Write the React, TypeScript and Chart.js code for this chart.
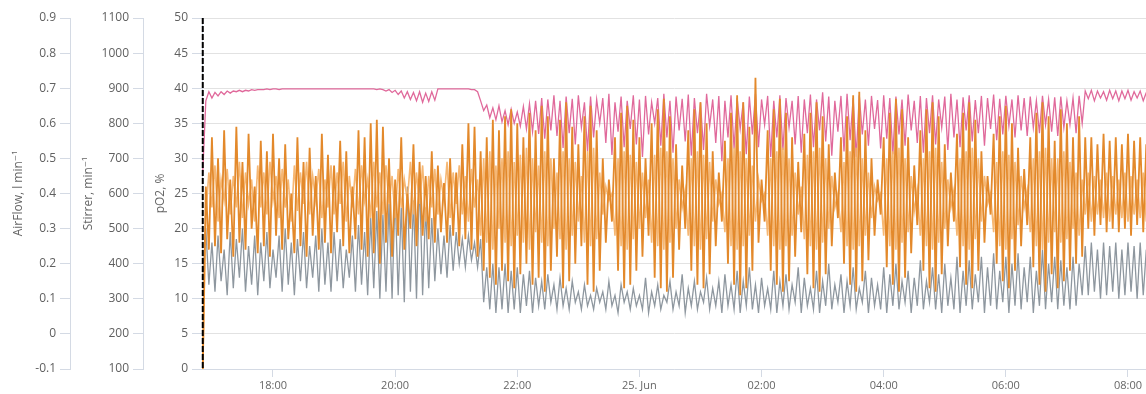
import React, { useEffect, useRef } from 'react';
import { Chart, registerables } from 'chart.js';
Chart.register(...registerables);

// time axis in minutes since 24 Jun 00:00
const START_MIN = 1011;
const STEP_MIN = 3;
const X_MIN = 1010.25;
const X_MAX = 1937.7;
const EVENT_MIN = 1011;
const X_TICKS = [1080, 1200, 1320, 1440, 1560, 1680, 1800, 1920];
const X_TICK_LABELS = ['18:00', '20:00', '22:00', '25. Jun', '02:00', '04:00', '06:00', '08:00'];

const AIRFLOW_TICKS = [-0.1, 0, 0.1, 0.2, 0.3, 0.4, 0.5, 0.6, 0.7, 0.8, 0.9];
const STIRRER_TICKS = [100, 200, 300, 400, 500, 600, 700, 800, 900, 1000, 1100];
const PO2_TICKS = [0, 5, 10, 15, 20, 25, 30, 35, 40, 45, 50];

// Stirrer, min^-1 (dark orange)
const stirrer = [
  100, 620, 440, 760, 450, 700, 430, 780, 470, 640,
  420, 790, 460, 690, 440, 770, 500, 620, 430, 750,
  450, 720, 420, 770, 480, 700, 440, 740, 470, 600,
  430, 760, 450, 690, 420, 730, 480, 650, 440, 770,
  460, 710, 430, 680, 490, 750, 450, 720, 430, 620,
  470, 780, 440, 760, 420, 800, 430, 810, 400, 790,
  460, 700, 420, 640, 480, 760, 440, 600, 500, 740,
  450, 690, 480, 650, 470, 720, 460, 680, 490, 630,
  460, 700, 480, 660, 450, 740, 470, 800, 440, 790,
  420, 720, 380, 760, 360, 810, 340, 780, 380, 820,
  350, 840, 330, 800, 370, 760, 400, 830, 340, 780,
  360, 850, 320, 820, 380, 700, 420, 810, 330, 860,
  350, 790, 400, 740, 450, 820, 340, 850, 320, 780,
  380, 700, 460, 640, 520, 760, 380, 830, 330, 850,
  340, 810, 380, 760, 420, 700, 480, 800, 360, 840,
  330, 870, 320, 820, 360, 740, 440, 680, 500, 780,
  380, 840, 340, 860, 330, 800, 370, 720, 450, 660,
  520, 750, 400, 830, 340, 880, 310, 860, 330, 790,
  380, 930, 460, 640, 520, 780, 380, 840, 340, 870,
  320, 830, 350, 760, 420, 690, 490, 770, 370, 830,
  330, 860, 320, 820, 370, 740, 450, 660, 530, 760,
  400, 820, 340, 880, 320, 890, 350, 780, 410, 700,
  480, 640, 540, 760, 390, 830, 340, 870, 320, 840,
  360, 760, 430, 680, 510, 780, 380, 840, 330, 860,
  320, 820, 370, 740, 450, 660, 520, 770, 390, 830,
  340, 860, 330, 810, 380, 720, 460, 650, 540, 770,
  400, 820, 350, 850, 330, 800, 380, 730, 450, 670,
  510, 760, 390, 830, 340, 860, 320, 820, 370, 750,
  330, 840, 350, 800, 380, 760, 400, 820, 420, 760,
  500, 760, 480, 740, 510, 770, 490, 750, 500, 760,
  490, 740, 500, 770, 480, 750, 510, 760, 490, 740,
];

// Stirrer (light orange)
const stirrerLight = [
  100, 540, 660, 560, 680, 520, 640, 580, 670, 540,
  650, 560, 690, 530, 660, 570, 640, 520, 680, 560,
  660, 540, 690, 580, 650, 530, 670, 560, 640, 520,
  680, 550, 660, 570, 690, 540, 650, 580, 670, 530,
  640, 560, 680, 540, 660, 570, 690, 520, 650, 560,
  670, 540, 680, 580, 640, 530, 690, 560, 660, 540,
  680, 570, 650, 530, 670, 560, 640, 580, 690, 540,
  660, 570, 680, 520, 650, 560, 670, 540, 640, 580,
  690, 530, 660, 570, 680, 540, 650, 520, 670, 560,
  640, 480, 700, 460, 720, 440, 680, 500, 700, 460,
  720, 450, 690, 480, 710, 460, 730, 440, 700, 490,
  680, 460, 720, 450, 700, 500, 660, 470, 720, 440,
  700, 480, 690, 520, 650, 460, 720, 450, 730, 470,
  660, 540, 620, 580, 600, 480, 700, 450, 720, 440,
  710, 470, 690, 500, 660, 530, 640, 460, 710, 450,
  730, 440, 720, 460, 700, 500, 640, 560, 610, 480,
  700, 450, 720, 440, 710, 470, 690, 520, 640, 570,
  600, 490, 700, 450, 730, 440, 720, 450, 700, 480,
  680, 520, 640, 580, 600, 480, 700, 450, 720, 440,
  730, 450, 700, 480, 660, 540, 620, 470, 710, 450,
  720, 440, 730, 460, 700, 500, 650, 560, 600, 490,
  690, 450, 720, 440, 730, 450, 700, 480, 660, 530,
  620, 580, 600, 480, 700, 450, 720, 440, 730, 460,
  700, 490, 650, 550, 610, 480, 700, 450, 720, 440,
  730, 460, 690, 500, 640, 560, 610, 480, 700, 450,
  720, 440, 730, 470, 700, 520, 650, 570, 600, 490,
  690, 450, 720, 440, 710, 470, 690, 510, 650, 560,
  610, 490, 700, 450, 720, 440, 730, 460, 700, 490,
  700, 460, 720, 470, 690, 500, 660, 480, 640, 540,
  660, 520, 650, 540, 640, 530, 660, 520, 650, 540,
  640, 530, 660, 520, 650, 540, 640, 530, 660, 520,
];

// AirFlow, l min^-1 (grey)
const airflow = [
  0.16, 0.30, 0.14, 0.26, 0.12, 0.28, 0.15, 0.24, 0.11, 0.29,
  0.13, 0.27, 0.16, 0.30, 0.12, 0.25, 0.14, 0.28, 0.11, 0.26,
  0.15, 0.29, 0.13, 0.24, 0.16, 0.28, 0.12, 0.30, 0.14, 0.26,
  0.11, 0.27, 0.15, 0.29, 0.13, 0.25, 0.16, 0.28, 0.12, 0.30,
  0.14, 0.26, 0.12, 0.29, 0.15, 0.27, 0.13, 0.24, 0.16, 0.28,
  0.12, 0.31, 0.14, 0.29, 0.11, 0.33, 0.13, 0.35, 0.10, 0.34,
  0.12, 0.37, 0.10, 0.40, 0.11, 0.36, 0.09, 0.42, 0.12, 0.38,
  0.10, 0.44, 0.11, 0.36, 0.13, 0.33, 0.15, 0.30, 0.17, 0.28,
  0.16, 0.31, 0.18, 0.29, 0.20, 0.27, 0.19, 0.28, 0.21, 0.26,
  0.19, 0.27, 0.09, 0.19, 0.07, 0.20, 0.06, 0.19, 0.07, 0.20,
  0.06, 0.18, 0.07, 0.19, 0.06, 0.17, 0.08, 0.18, 0.06, 0.16,
  0.08, 0.15, 0.07, 0.17, 0.09, 0.14, 0.07, 0.16, 0.08, 0.13,
  0.07, 0.15, 0.09, 0.12, 0.07, 0.14, 0.08, 0.11, 0.07, 0.13,
  0.09, 0.12, 0.07, 0.15, 0.08, 0.11, 0.06, 0.14, 0.09, 0.12,
  0.07, 0.13, 0.08, 0.11, 0.07, 0.16, 0.06, 0.12, 0.08, 0.14,
  0.07, 0.11, 0.09, 0.15, 0.07, 0.12, 0.08, 0.17, 0.06, 0.13,
  0.08, 0.15, 0.07, 0.12, 0.09, 0.16, 0.07, 0.13, 0.08, 0.15,
  0.06, 0.17, 0.08, 0.14, 0.07, 0.18, 0.06, 0.15, 0.08, 0.19,
  0.07, 0.14, 0.06, 0.16, 0.08, 0.13, 0.07, 0.18, 0.06, 0.15,
  0.08, 0.17, 0.07, 0.14, 0.09, 0.19, 0.06, 0.16, 0.08, 0.13,
  0.07, 0.18, 0.06, 0.15, 0.08, 0.20, 0.07, 0.14, 0.09, 0.17,
  0.06, 0.15, 0.08, 0.19, 0.07, 0.13, 0.09, 0.18, 0.06, 0.16,
  0.08, 0.14, 0.07, 0.19, 0.06, 0.17, 0.08, 0.20, 0.07, 0.15,
  0.09, 0.18, 0.06, 0.16, 0.08, 0.21, 0.07, 0.15, 0.09, 0.19,
  0.07, 0.17, 0.06, 0.20, 0.08, 0.16, 0.07, 0.22, 0.06, 0.18,
  0.08, 0.21, 0.07, 0.17, 0.09, 0.22, 0.06, 0.19, 0.08, 0.23,
  0.07, 0.18, 0.09, 0.22, 0.06, 0.20, 0.08, 0.23, 0.07, 0.19,
  0.09, 0.22, 0.06, 0.18, 0.08, 0.24, 0.07, 0.20, 0.09, 0.22,
  0.07, 0.21, 0.08, 0.19, 0.07, 0.22, 0.08, 0.20, 0.11, 0.25,
  0.11, 0.26, 0.12, 0.24, 0.10, 0.26, 0.11, 0.25, 0.12, 0.26,
  0.10, 0.24, 0.11, 0.26, 0.12, 0.25, 0.10, 0.26, 0.11, 0.24,
];

// pO2, % (pink)
const po2 = [
  28, 38.2, 39.5, 38.6, 39.4, 38.9, 39.5, 39.1, 39.6, 39.3,
  39.6, 39.5, 39.7, 39.5, 39.7, 39.6, 39.8, 39.7, 39.8, 39.8,
  39.8, 39.9, 39.8, 39.9, 39.9, 39.8, 39.9, 39.9, 39.9, 39.9,
  39.9, 39.9, 39.9, 39.9, 39.9, 39.9, 39.9, 39.9, 39.9, 39.9,
  39.9, 39.9, 39.9, 39.9, 39.9, 39.9, 39.9, 39.9, 39.9, 39.9,
  39.9, 39.9, 39.9, 39.9, 39.9, 39.9, 39.9, 39.8, 39.9, 39.8,
  39.6, 39.8, 39.4, 39.7, 39.1, 39.6, 38.6, 39.5, 38.4, 39.4,
  38.2, 39.5, 38.0, 39.3, 38.1, 39.5, 38.3, 39.9, 39.9, 39.9,
  39.9, 39.9, 39.9, 39.9, 39.9, 39.9, 39.9, 39.9, 39.8, 39.8,
  39.5, 38.2, 36.8, 37.6, 35.8, 37.2, 35.5, 37.5, 35.2, 36.8,
  34.8, 37.0, 35.0, 36.6, 34.6, 37.4, 34.2, 37.8, 33.8, 38.2,
  33.5, 38.6, 32.8, 38.4, 34.0, 39.0, 33.2, 38.2, 31.5, 38.8,
  33.6, 38.5, 32.0, 39.0, 34.4, 38.0, 31.0, 38.8, 33.0, 38.4,
  35.0, 38.6, 32.2, 39.2, 30.5, 38.0, 33.8, 38.8, 31.6, 38.2,
  34.2, 39.0, 32.0, 38.4, 30.2, 38.9, 33.4, 38.0, 35.0, 38.6,
  31.8, 39.2, 33.0, 38.2, 30.8, 38.8, 34.0, 38.5, 32.4, 39.1,
  30.4, 38.6, 33.6, 38.0, 31.2, 39.2, 34.6, 38.4, 32.2, 38.9,
  29.6, 38.2, 33.0, 39.0, 31.4, 38.6, 34.2, 38.0, 30.6, 38.8,
  33.4, 39.2, 31.6, 38.4, 34.8, 38.9, 30.2, 38.2, 33.0, 39.0,
  31.2, 38.6, 34.4, 38.2, 32.0, 38.9, 30.8, 38.4, 33.6, 39.1,
  31.6, 38.4, 34.0, 39.4, 32.4, 38.8, 30.4, 38.2, 33.8, 38.9,
  31.0, 39.2, 32.6, 38.6, 30.2, 39.0, 33.4, 38.4, 31.8, 38.9,
  34.2, 38.3, 31.4, 39.0, 32.8, 38.6, 30.6, 38.8, 33.4, 38.4,
  31.8, 39.1, 34.0, 38.2, 32.2, 38.9, 30.8, 38.6, 33.6, 39.0,
  32.0, 38.4, 34.4, 38.8, 31.2, 39.2, 33.0, 38.4, 31.6, 38.7,
  34.0, 39.0, 32.4, 38.3, 33.6, 38.9, 31.8, 38.6, 34.2, 39.1,
  32.6, 38.5, 33.4, 38.9, 34.6, 38.4, 33.0, 39.0, 34.0, 38.6,
  33.2, 38.8, 34.4, 38.2, 33.6, 38.9, 34.8, 38.4, 33.8, 38.7,
  33.2, 38.8, 34.4, 38.2, 34.8, 38.6, 33.6, 38.9, 35.0, 39.6,
  38.5, 39.7, 38.2, 39.6, 38.6, 39.5, 38.3, 39.7, 38.5, 39.6,
  38.2, 39.6, 38.5, 39.7, 38.3, 39.5, 38.6, 39.6, 38.2, 39.4,
];

const toPoints = (arr: number[]) => arr.map((v, i) => ({ x: START_MIN + i * STEP_MIN, y: v }));

const FONT = '"Open Sans", "DejaVu Sans", sans-serif';
const LABEL_COLOR = '#606060';
const TITLE_COLOR = '#666666';
const AXIS_LINE = '#d4dae4';
const GRID = '#e2e2e2';

const eventLine = {
  id: 'eventLine',
  afterDatasetsDraw(chart: any) {
    const { ctx, chartArea, scales } = chart;
    const x = scales.x.getPixelForValue(EVENT_MIN);
    ctx.save();
    ctx.strokeStyle = '#000000';
    ctx.lineWidth = 2;
    ctx.setLineDash([6, 2]);
    ctx.beginPath();
    ctx.moveTo(x, chartArea.top);
    ctx.lineTo(x, chartArea.bottom);
    ctx.stroke();
    ctx.restore();
  },
};

function yAxis(opts: any) {
  return {
    type: 'linear',
    position: 'left',
    min: opts.min,
    max: opts.max,
    weight: opts.weight,
    afterFit: (s: any) => { s.width = opts.width; },
    afterBuildTicks: (s: any) => { s.ticks = opts.ticks.map((v: number) => ({ value: v })); },
    title: {
      display: true,
      text: opts.title,
      color: TITLE_COLOR,
      font: { family: FONT, size: 12 },
      padding: { top: opts.titlePad, bottom: 0 },
    },
    ticks: {
      color: LABEL_COLOR,
      font: { family: FONT, size: 12 },
      padding: 4,
      autoSkip: false,
      callback: opts.format,
    },
    grid: {
      display: true,
      drawOnChartArea: opts.gridOnChart,
      drawTicks: true,
      tickLength: 10,
      color: GRID,
      tickColor: AXIS_LINE,
      lineWidth: 1,
    },
    border: { display: true, color: AXIS_LINE, width: 1 },
  };
}

export default function App() {
  const ref = useRef<HTMLCanvasElement | null>(null);
  useEffect(() => {
    if (!ref.current) return;
    const chart = new Chart(ref.current, {
      type: 'line',
      data: {
        datasets: [
          {
            label: 'Stirrer',
            data: toPoints(stirrer),
            yAxisID: 'yS',
            borderColor: '#E3892B',
            borderWidth: 1.8,
            order: 1,
          },
          {
            label: 'Stirrer (light)',
            data: toPoints(stirrerLight),
            yAxisID: 'yS',
            borderColor: 'rgba(245,175,100,0.9)',
            borderWidth: 1.6,
            order: 2,
          },
          {
            label: 'AirFlow',
            data: toPoints(airflow),
            yAxisID: 'yA',
            borderColor: '#8E979F',
            borderWidth: 1.3,
            order: 3,
          },
          {
            label: 'pO2',
            data: toPoints(po2),
            yAxisID: 'yP',
            borderColor: '#E0699B',
            borderWidth: 1.3,
            order: 4,
          },
        ] as any,
      },
      options: {
        animation: false,
        responsive: false,
        parsing: true,
        layout: { padding: { top: 18, left: 0, right: 0, bottom: 0 } },
        elements: { point: { radius: 0 }, line: { tension: 0 } },
        plugins: { legend: { display: false }, tooltip: { enabled: false } },
        events: [],
        scales: {
          x: {
            type: 'linear',
            min: X_MIN,
            max: X_MAX,
            afterFit: (s: any) => { s.height = 25; },
            afterBuildTicks: (s: any) => { s.ticks = X_TICKS.map((v) => ({ value: v })); },
            ticks: {
              color: '#666666',
              font: { family: FONT, size: 11 },
              padding: 2,
              maxRotation: 0,
              autoSkip: false,
              includeBounds: false,
              callback: (v: any) => {
                const idx = X_TICKS.indexOf(Number(v));
                return idx >= 0 ? X_TICK_LABELS[idx] : '';
              },
            },
            grid: {
              display: true,
              drawOnChartArea: false,
              drawTicks: true,
              tickLength: 8,
              tickColor: AXIS_LINE,
            },
            border: { display: true, color: AXIS_LINE, width: 1 },
          },
          yP: yAxis({
            min: 0, max: 50, weight: 1, width: 59, ticks: PO2_TICKS,
            title: 'pO2, %', titlePad: 10, gridOnChart: true,
            format: (v: any) => String(v),
          }),
          yS: yAxis({
            min: 100, max: 1100, weight: 2, width: 73, ticks: STIRRER_TICKS,
            title: 'Stirrer, min⁻¹', titlePad: 11, gridOnChart: false,
            format: (v: any) => String(v),
          }),
          yA: yAxis({
            min: -0.1, max: 0.9, weight: 3, width: 70, ticks: AIRFLOW_TICKS,
            title: 'AirFlow, l min⁻¹', titlePad: 11, gridOnChart: false,
            format: (v: any) => {
              const n = Number(v);
              return Math.abs(n) < 1e-9 ? '0' : n.toFixed(1);
            },
          }),
        } as any,
      },
      plugins: [eventLine],
    });
    return () => chart.destroy();
  }, []);

  return (
    <div style={{ position: 'fixed', left: 0, top: 0, width: 1146, height: 394, background: '#ffffff' }}>
      <canvas ref={ref} width={1146} height={394} style={{ display: 'block', width: 1146, height: 394 }} />
    </div>
  );
}
